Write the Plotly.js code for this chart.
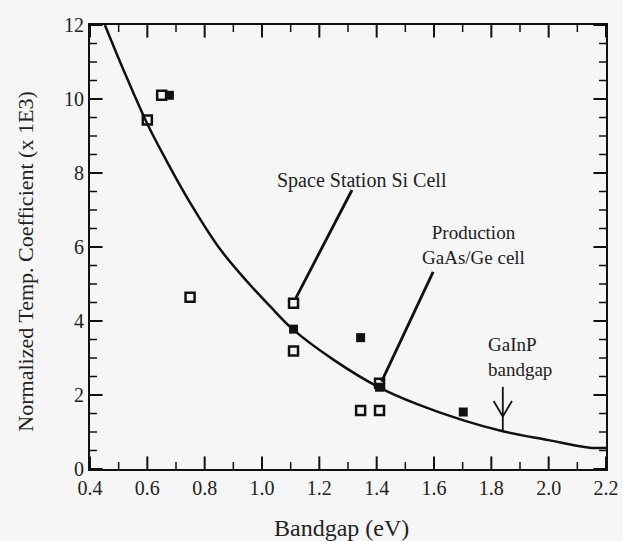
<!DOCTYPE html>
<html>
<head>
<meta charset="utf-8">
<script src="https://cdn.plot.ly/plotly-3.0.1.min.js"></script>
<style>
html,body{margin:0;padding:0;background:#f6f6f6;}
#chart{width:623px;height:541px;}
</style>
</head>
<body>
<div id="chart"></div>
<script>
// Fitted curve
var curveX = [0.452, 0.516, 0.598, 0.667, 0.749, 0.853, 0.958, 1.028, 1.107, 1.25, 1.41, 1.539, 1.70, 1.84, 2.00, 2.12, 2.15, 2.20];
var curveY = [12.0, 10.8, 9.36, 8.33, 7.20, 5.95, 4.98, 4.40, 3.78, 2.95, 2.20, 1.76, 1.32, 1.02, 0.78, 0.60, 0.57, 0.57];

// Open-square measurements
var openX = [0.600, 0.650, 0.749, 1.110, 1.110, 1.410, 1.344, 1.410];
var openY = [9.43, 10.10, 4.64, 4.48, 3.19, 2.32, 1.58, 1.58];

// Filled-square measurements
var fillX = [0.677, 1.110, 1.344, 1.410, 1.702];
var fillY = [10.10, 3.78, 3.55, 2.21, 1.54];

// Axis ranges and tick positions
var xRange = [0.4, 2.2];
var yRange = [0, 12];
var xMajorTicks = [0.4, 0.6, 0.8, 1.0, 1.2, 1.4, 1.6, 1.8, 2.0, 2.2];
var xMinorTicks = [0.5, 0.7, 0.9, 1.1, 1.3, 1.5, 1.7, 1.9, 2.1];
var yMajorTicks = [0, 2, 4, 6, 8, 10, 12];
var yMinorTicks = [0.5, 1, 1.5, 2.5, 3, 3.5, 4.5, 5, 5.5, 6.5, 7, 7.5, 8.5, 9, 9.5, 10.5, 11, 11.5];

var ink = '#111111';
var txt = '#222222';
var font = 'Liberation Serif, Times New Roman, serif';

function fill(arr, v) { return arr.map(function () { return v; }); }

// inward tick marks drawn as line markers sitting on the frame; the half outside the plot is clipped
function tickTrace(xs, ys, symbol, size, width) {
  return {x: xs, y: ys, mode: 'markers', cliponaxis: true, hoverinfo: 'skip',
          marker: {symbol: symbol, size: size, color: ink, line: {color: ink, width: width}}};
}

var traces = [
  tickTrace(xMajorTicks, fill(xMajorTicks, yRange[0]), 'line-ns-open', 18, 2),
  tickTrace(xMajorTicks, fill(xMajorTicks, yRange[1]), 'line-ns-open', 18, 2),
  tickTrace(xMinorTicks, fill(xMinorTicks, yRange[0]), 'line-ns-open', 10, 1.5),
  tickTrace(xMinorTicks, fill(xMinorTicks, yRange[1]), 'line-ns-open', 10, 1.5),
  tickTrace(fill(yMajorTicks, xRange[0]), yMajorTicks, 'line-ew-open', 18, 2),
  tickTrace(fill(yMajorTicks, xRange[1]), yMajorTicks, 'line-ew-open', 18, 2),
  tickTrace(fill(yMinorTicks, xRange[0]), yMinorTicks, 'line-ew-open', 10, 1.5),
  tickTrace(fill(yMinorTicks, xRange[1]), yMinorTicks, 'line-ew-open', 10, 1.5),
  {x: curveX, y: curveY, mode: 'lines', line: {color: ink, width: 2.5, shape: 'spline', smoothing: 1}, hoverinfo: 'skip'},
  {x: openX, y: openY, mode: 'markers', marker: {symbol: 'square-open', size: 9, color: ink, line: {width: 2.5, color: ink}}},
  {x: fillX, y: fillY, mode: 'markers', marker: {symbol: 'square', size: 9, color: ink}}
];

var layout = {
  width: 623, height: 541,
  margin: {l: 90, r: 17, t: 25, b: 72},
  paper_bgcolor: '#f6f6f6', plot_bgcolor: '#f6f6f6',
  showlegend: false,
  font: {family: font, color: txt},
  xaxis: {range: xRange, tickmode: 'array', tickvals: xMajorTicks, tickformat: '.1f',
          showline: true, linecolor: ink, linewidth: 2, mirror: true,
          ticks: 'inside', ticklen: 9, tickwidth: 2, tickcolor: 'rgba(0,0,0,0)',
          showgrid: false, zeroline: false,
          tickfont: {family: font, size: 20, color: txt}},
  yaxis: {range: yRange, tickmode: 'array', tickvals: yMajorTicks,
          showline: true, linecolor: ink, linewidth: 2, mirror: true,
          ticks: 'inside', ticklen: 9, tickwidth: 2, tickcolor: 'rgba(0,0,0,0)',
          showgrid: false, zeroline: false,
          tickfont: {family: font, size: 20, color: txt}},
  shapes: [
    {type: 'line', xref: 'x', yref: 'y', x0: 1.314, y0: 7.54, x1: 1.118, y1: 4.62, line: {color: ink, width: 2.8}},
    {type: 'line', xref: 'x', yref: 'y', x0: 1.597, y0: 5.33, x1: 1.417, y1: 2.36, line: {color: ink, width: 2.8}},
    {type: 'line', xref: 'x', yref: 'y', x0: 1.84, y0: 2.22, x1: 1.84, y1: 1.02, line: {color: ink, width: 1.8}},
    {type: 'path', xref: 'x', yref: 'y', path: 'M 1.808 1.84 L 1.84 1.42 L 1.872 1.84', line: {color: ink, width: 1.8}}
  ],
  annotations: [
    {xref: 'paper', yref: 'paper', x: 0.488, y: -0.133, text: 'Bandgap (eV)', showarrow: false,
     font: {family: font, size: 24, color: txt}, xanchor: 'center', yanchor: 'middle'},
    {xref: 'paper', yref: 'paper', x: -0.124, y: 0.467, text: 'Normalized Temp. Coefficient (x 1E3)', showarrow: false,
     textangle: -90, font: {family: font, size: 22, color: txt}, xanchor: 'center', yanchor: 'middle'},
    {xref: 'x', yref: 'y', x: 1.35, y: 7.81, text: 'Space Station Si Cell', showarrow: false,
     font: {family: font, size: 20, color: txt}, xanchor: 'center', yanchor: 'middle'},
    {xref: 'x', yref: 'y', x: 1.737, y: 6.05, text: 'Production<br>GaAs/Ge cell', showarrow: false,
     font: {family: font, size: 19, color: txt}, xanchor: 'center', yanchor: 'middle'},
    {xref: 'x', yref: 'y', x: 1.90, y: 3.03, text: 'GaInP<br>bandgap', showarrow: false, align: 'left',
     font: {family: font, size: 19, color: txt}, xanchor: 'center', yanchor: 'middle'}
  ]
};

Plotly.newPlot('chart', traces, layout, {displayModeBar: false});
</script>
</body>
</html>
